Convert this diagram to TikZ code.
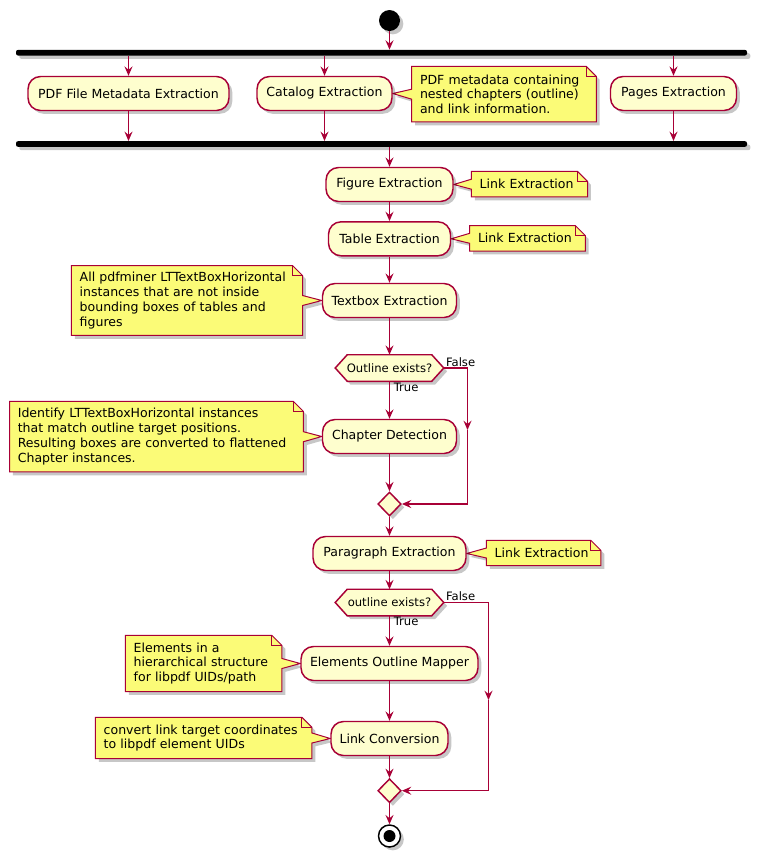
\documentclass[tikz,border=0pt]{standalone}
\usepackage{fontspec}
\setmainfont{DejaVu Sans}
\usetikzlibrary{shapes.geometric,arrows.meta,shadows,backgrounds}
\definecolor{pumlred}{HTML}{A80036}
\definecolor{actfill}{HTML}{FEFECE}
\definecolor{notefill}{HTML}{FBFB77}
\tikzset{
  shad/.style={drop shadow={shadow xshift=2.5pt, shadow yshift=-2.5pt, opacity=0.22, fill=black}},
  act/.style={draw=pumlred, fill=actfill, line width=1.1pt, rounded corners=9.4pt,
    minimum height=25.5pt, inner sep=0pt, font=\fontsize{9.4}{11}\selectfont, shad},
  bar/.style={fill=black, rounded corners=1.5pt, minimum width=548.25pt, minimum height=4.2pt, inner sep=0pt, shad},
  note/.style={inner xsep=6pt, inner ysep=0pt, align=left, font=\fontsize{9.4}{11.1}\selectfont},
  notebg/.style={draw=pumlred, fill=notefill, line width=0.75pt, shad},
  noteline/.style={draw=pumlred, line width=0.75pt},
  hex/.style={minimum width=81pt, minimum height=19.5pt, inner sep=0pt, font=\fontsize{8.7}{10}\selectfont},
  hexbg/.style={draw=pumlred, fill=actfill, line width=1.1pt, shad},
  merge/.style={diamond, draw=pumlred, fill=actfill, line width=1.1pt, minimum width=17.5pt, minimum height=18pt, inner sep=0pt, shad},
  startdot/.style={circle, fill=black, minimum size=15.75pt, inner sep=0pt, shad},
  stopring/.style={circle, draw=black, fill=white, line width=1.1pt, minimum size=16.5pt, inner sep=0pt, shad},
  flow/.style={draw=pumlred, line width=1pt, -{Stealth[length=7pt,width=6pt,inset=2.5pt]}},
  lbl/.style={font=\fontsize{8.7}{10}\selectfont, inner sep=1pt},
}
\newcommand\noteRight[2]{%
  \path[notebg] (#1.north west) -- ([xshift=-7.5pt]#1.north east) -- ([yshift=-7.5pt]#1.north east)
    -- (#1.south east) -- (#1.south west) -- ([yshift=-3.75pt]#1.west) -- (#2.east)
    -- ([yshift=3.75pt]#1.west) -- cycle;
  \draw[noteline] ([xshift=-7.5pt]#1.north east) |- ([yshift=-7.5pt]#1.north east);}
\newcommand\noteLeft[2]{%
  \path[notebg] (#1.north west) -- ([xshift=-7.5pt]#1.north east) -- ([yshift=-7.5pt]#1.north east)
    -- ([yshift=3.75pt]#1.east) -- (#2.west) -- ([yshift=-3.75pt]#1.east)
    -- (#1.south east) -- (#1.south west) -- cycle;
  \draw[noteline] ([xshift=-7.5pt]#1.north east) |- ([yshift=-7.5pt]#1.north east);}
\newcommand\hexShape[1]{%
  \path[hexbg] (#1.west) -- ([xshift=9pt]#1.north west) -- ([xshift=-9pt]#1.north east) -- (#1.east)
    -- ([xshift=-9pt]#1.south east) -- ([xshift=9pt]#1.south west) -- cycle;}
\begin{document}
\begin{tikzpicture}[x=0.75pt, y=-0.75pt]
\path[use as bounding box] (0,0) rectangle (758,854);
% nodes
\node[startdot] (start) at (389.5,20.5) {};
\node[bar] (fork) at (381.5,52.7) {};
\node[act, minimum width=150.75pt] (meta) at (128.5,93.5) {PDF File Metadata Extraction};
\node[act, minimum width=101.25pt] (cat) at (324.5,93.5) {Catalog Extraction};
\node[act, minimum width=94.5pt] (pages) at (673.5,93.5) {Pages Extraction};
\node[note, text width=126pt, minimum height=41.25pt] (ncat) at (504,94.2)
  {PDF metadata containing\\nested chapters (outline)\\and link information.};
\node[bar] (join) at (381.5,144) {};
\node[act, minimum width=95.25pt] (fig) at (389.5,184.5) {Figure Extraction};
\node[note, text width=74.7pt, minimum height=18.75pt] (nfig) at (529.5,184.2) {Link Extraction};
\node[act, minimum width=91.5pt] (tab) at (389.5,238.8) {Table Extraction};
\node[note, text width=74.25pt, minimum height=18.75pt] (ntab) at (527.5,238.3) {Link Extraction};
\node[act, minimum width=100.5pt] (txt) at (389.5,300.5) {Textbox Extraction};
\node[note, text width=160.95pt, minimum height=52pt] (ntxt) at (187,300.5)
  {All pdfminer LTTextBoxHorizontal\\instances that are not inside\\bounding boxes of tables and\\figures};
\node[hex] (q1) at (389.5,368) {Outline exists?};
\node[act, minimum width=100.5pt] (chap) at (389.5,436.5) {Chapter Detection};
\node[note, text width=208pt, minimum height=52.5pt] (nchap) at (156.5,436.7)
  {Identify LTTextBoxHorizontal instances\\that match outline target positions.\\Resulting boxes are converted to flattened\\Chapter instances.};
\node[merge] (m1) at (389.5,504) {};
\node[act, minimum width=114.75pt] (par) at (389.5,553.5) {Paragraph Extraction};
\node[note, text width=73.5pt, minimum height=18.4pt] (npar) at (543.7,553) {Link Extraction};
\node[hex] (q2) at (389.5,602.5) {outline exists?};
\node[act, minimum width=132.75pt] (elem) at (389.5,663.5) {Elements Outline Mapper};
\node[note, text width=105pt, minimum height=41.7pt] (nelem) at (203.7,663.5)
  {Elements in a\\hierarchical structure\\for libpdf UIDs/path};
\node[act, minimum width=87.75pt] (lconv) at (389.5,738.5) {Link Conversion};
\node[note, text width=150pt, minimum height=30.5pt] (nlink) at (203.7,738)
  {convert link target coordinates\\to libpdf element UIDs};
\node[merge] (m2) at (389.5,790.7) {};
\node[stopring] (stop) at (389.5,836) {};
\fill (stop.center) circle (4.5pt);
% labels
\node[lbl, anchor=south west] (false1) at ([xshift=0.5pt]q1.east) {False};
\node[lbl, anchor=north west] (true1) at ([xshift=2pt]q1.south) {True};
\node[lbl, anchor=south west] (false2) at ([xshift=0.5pt]q2.east) {False};
\node[lbl, anchor=north west] (true2) at ([xshift=2pt]q2.south) {True};
\coordinate (f1) at (467.5,430);
\coordinate (f2) at (488.5,700);
% connectors
\draw[flow] (start) -- (fork.north -| start);
\foreach \a in {meta,cat,pages} {
  \draw[flow] (fork.south -| \a) -- (\a);
  \draw[flow] (\a) -- (join.north -| \a);
}
\draw[flow] (join.south -| fig) -- (fig);
\draw[flow] (fig) -- (tab);
\draw[flow] (tab) -- (txt);
\draw[flow] (txt) -- (q1);
\draw[flow] (q1) -- (chap);
\draw[flow] (chap) -- (m1);
\draw[flow] (q1.east) -| (f1);
\draw[flow] (f1) |- (m1.east);
\draw[flow] (m1) -- (par);
\draw[flow] (par) -- (q2);
\draw[flow] (q2) -- (elem);
\draw[flow] (elem) -- (lconv);
\draw[flow] (lconv) -- (m2);
\draw[flow] (q2.east) -| (f2);
\draw[flow] (f2) |- (m2.east);
\draw[flow] (m2) -- (stop);
% background shapes
\begin{pgfonlayer}{background}
\fill[white] (0,0) rectangle (758,854);
\noteRight{ncat}{cat}
\noteRight{nfig}{fig}
\noteRight{ntab}{tab}
\noteLeft{ntxt}{txt}
\noteLeft{nchap}{chap}
\noteRight{npar}{par}
\noteLeft{nelem}{elem}
\noteLeft{nlink}{lconv}
\hexShape{q1}
\hexShape{q2}
\end{pgfonlayer}
\end{tikzpicture}
\end{document}
